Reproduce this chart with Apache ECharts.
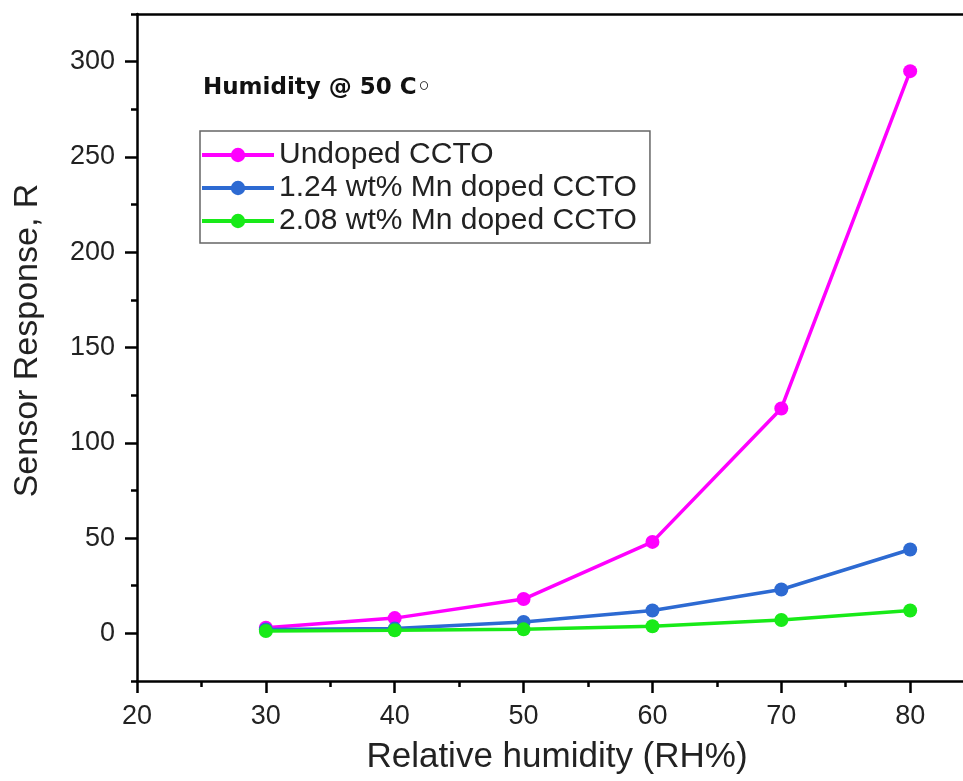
<!DOCTYPE html>
<html>
<head>
<meta charset="utf-8">
<script src="https://cdn.jsdelivr.net/npm/echarts@6/dist/echarts.min.js"></script>
<style>
  html, body { margin: 0; padding: 0; background: #fff; }
  #chart { width: 963px; height: 781px; }
</style>
</head>
<body>
<div id="chart"></div>
<script>
// Relative humidity levels (RH%)
const humidity = [30, 40, 50, 60, 70, 80];

// Sensor response R for each composition
const undopedCCTO = [3, 8, 18, 48, 118, 295];
const mn124CCTO = [2, 2.5, 6, 12, 23, 44];
const mn208CCTO = [1.2, 1.6, 2.1, 3.7, 7, 12];

const seriesNames = ['Undoped CCTO', '1.24 wt% Mn doped CCTO', '2.08 wt% Mn doped CCTO'];

// Axis ticks
const xMajorTicks = [20, 30, 40, 50, 60, 70, 80];
const xMinorTicks = [25, 35, 45, 55, 65, 75];
const yMajorTicks = [0, 50, 100, 150, 200, 250, 300];
const yMinorTicks = [-25, 25, 75, 125, 175, 225, 275, 325];

const annotation = 'Humidity @ 50 C\u25E6';

const FONT = 'Liberation Sans, Arial, sans-serif';
const colors = ['#ff00ff', '#2d6ad2', '#18ea18'];

const X_MIN = 20, X_MAX = 84.1, Y_MIN = -25, Y_MAX = 325;

function pairs(ys) {
  return humidity.map((x, i) => [x, ys[i]]);
}

const chart = echarts.init(document.getElementById('chart'), null, { renderer: 'canvas' });

const axisLineStyle = { color: '#000', width: 2.5 };
const tickLine = { color: '#000', width: 2.5 };

chart.setOption({
  animation: false,
  backgroundColor: '#fff',
  grid: { left: 137, top: 14, bottom: 100, right: 0 },
  xAxis: [
    {
      // bottom axis: labels and major ticks
      type: 'value', min: X_MIN, max: X_MAX,
      name: 'Relative humidity (RH%)', nameLocation: 'middle', nameGap: 59,
      nameTextStyle: { fontFamily: FONT, fontSize: 35, color: '#222', padding: [0, 0, 0, 14] },
      axisLine: { show: true, onZero: false, lineStyle: axisLineStyle },
      axisTick: { show: true, inside: false, length: 12, lineStyle: tickLine, customValues: xMajorTicks },
      axisLabel: { fontFamily: FONT, fontSize: 27, color: '#222', margin: 22, customValues: xMajorTicks },
      splitLine: { show: false }
    },
    {
      // bottom axis: minor ticks
      type: 'value', min: X_MIN, max: X_MAX, position: 'bottom',
      axisLine: { show: false, onZero: false },
      axisTick: { show: true, inside: false, length: 6, lineStyle: tickLine, customValues: xMinorTicks },
      axisLabel: { show: false },
      splitLine: { show: false }
    },
    {
      // top frame line
      type: 'value', min: X_MIN, max: X_MAX, position: 'top',
      axisLine: { show: true, onZero: false, lineStyle: axisLineStyle },
      axisTick: { show: false },
      axisLabel: { show: false },
      splitLine: { show: false }
    }
  ],
  yAxis: [
    {
      type: 'value', min: Y_MIN, max: Y_MAX,
      name: 'Sensor Response, R', nameLocation: 'middle', nameGap: 92, nameRotate: 90,
      nameTextStyle: { fontFamily: FONT, fontSize: 34, color: '#222', padding: [0, 0, 0, 14] },
      axisLine: { show: true, onZero: false, lineStyle: axisLineStyle },
      axisTick: { show: true, inside: false, length: 12, lineStyle: tickLine, customValues: yMajorTicks },
      axisLabel: { fontFamily: FONT, fontSize: 27, color: '#222', margin: 22, customValues: yMajorTicks },
      splitLine: { show: false }
    },
    {
      type: 'value', min: Y_MIN, max: Y_MAX, position: 'left',
      axisLine: { show: false, onZero: false },
      axisTick: { show: true, inside: false, length: 6, lineStyle: tickLine, customValues: yMinorTicks },
      axisLabel: { show: false },
      splitLine: { show: false }
    }
  ],
  legend: {
    orient: 'vertical',
    left: 200, top: 131,
    padding: [9, 13, 7, 0],
    itemWidth: 72, itemHeight: 18, itemGap: 3,
    borderColor: '#666', borderWidth: 1.5,
    backgroundColor: '#fff',
    lineStyle: { width: 4 },
    textStyle: { fontFamily: FONT, fontSize: 30, color: '#222', lineHeight: 30 },
    data: seriesNames
  },
  graphic: [
    {
      type: 'text', left: 203, top: 77,
      style: { text: annotation, fontFamily: 'DejaVu Sans', fontSize: 23, fontWeight: 'bold', fill: '#111' }
    }
  ],
  series: [undopedCCTO, mn124CCTO, mn208CCTO].map((ys, i) => ({
    name: seriesNames[i],
    type: 'line',
    xAxisIndex: 0, yAxisIndex: 0,
    data: pairs(ys),
    symbol: 'circle', symbolSize: 14,
    lineStyle: { color: colors[i], width: 3.5 },
    itemStyle: { color: colors[i] },
    z: 2 + i
  }))
});
</script>
</body>
</html>
